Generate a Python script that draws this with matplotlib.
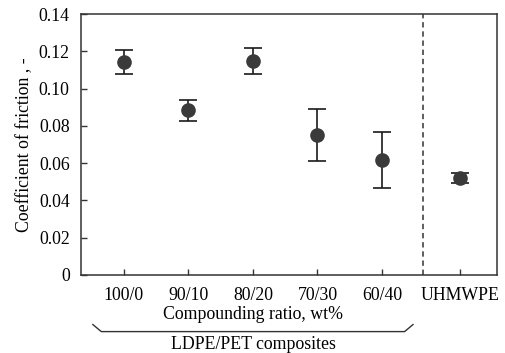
import matplotlib
matplotlib.use("Agg")
import matplotlib.pyplot as plt
from matplotlib.transforms import blended_transform_factory

plt.rcParams["font.family"] = ["Liberation Serif", "DejaVu Serif"]

# data
categories = ["100/0", "90/10", "80/20", "70/30", "60/40", "UHMWPE"]
x_pos = [1, 2, 3, 4, 5, 6.21]
cof_mean = [0.1143, 0.0883, 0.1147, 0.0753, 0.0618, 0.0523]
cof_upper = [0.1205, 0.0940, 0.1218, 0.0893, 0.0770, 0.0548]
cof_lower = [0.1080, 0.0825, 0.1080, 0.0613, 0.0466, 0.0496]
y_ticks = [0, 0.02, 0.04, 0.06, 0.08, 0.10, 0.12, 0.14]
y_tick_labels = ["0", "0.02", "0.04", "0.06", "0.08", "0.10", "0.12", "0.14"]

err_low = [m - lo for m, lo in zip(cof_mean, cof_lower)]
err_high = [hi - m for m, hi in zip(cof_mean, cof_upper)]

fig = plt.figure(figsize=(5.05, 3.53), dpi=100)
ax = fig.add_axes([0.160, 0.221, 0.824, 0.739])

ax.errorbar(x_pos, cof_mean, yerr=[err_low, err_high], fmt="o",
            color="#3a3a3a", ecolor="#1a1a1a", elinewidth=1.2,
            capsize=6.5, capthick=1.2, markersize=9.5, zorder=3)

ax.axvline(5.64, color="#333333", linestyle=(0, (3.5, 2.5)), linewidth=1.1)

ax.set_xlim(0.333, 6.78)
ax.set_ylim(0, 0.14)
ax.set_yticks(y_ticks)
ax.set_yticklabels(y_tick_labels)
ax.set_xticks(x_pos)
ax.set_xticklabels(categories)
ax.tick_params(direction="in", length=4, width=1, labelsize=12.8, color="#333333")
ax.tick_params(axis="x", pad=9)
ax.tick_params(axis="y", pad=8)
for s in ax.spines.values():
    s.set_linewidth(1.1)
    s.set_color("#333333")

ax.set_ylabel("Coefficient of friction , -", fontsize=12.8, labelpad=4)

trans = blended_transform_factory(ax.transData, ax.transAxes)
ax.text(3, -0.153, "Compounding ratio, wt%", transform=trans,
        ha="center", va="center", fontsize=12.8)
ax.text(3, -0.268, "LDPE/PET composites", transform=trans,
        ha="center", va="center", fontsize=12.8)

# bracket under the composite group
bx = [0.52, 0.65, 5.35, 5.48]
by = [-0.19, -0.217, -0.217, -0.19]
ax.plot(bx, by, transform=trans, color="#333333", linewidth=1.0, clip_on=False)

fig.savefig("out.png", dpi=100)
